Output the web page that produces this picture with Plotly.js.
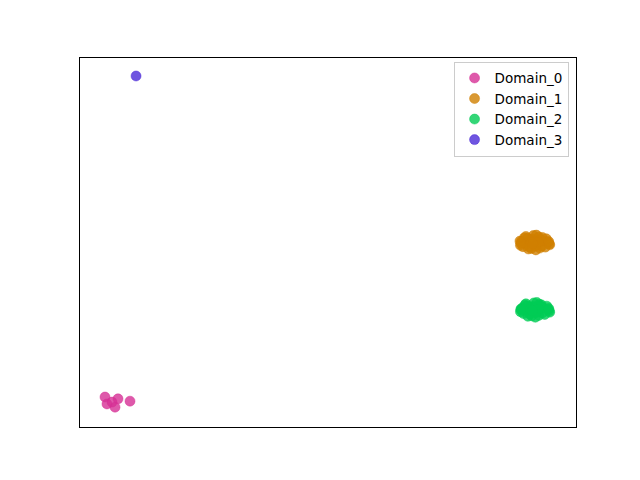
<!DOCTYPE html>
<html>
<head>
<meta charset="utf-8">
<script src="https://cdn.plot.ly/plotly-3.0.1.min.js"></script>
<style>
  html, body { margin: 0; padding: 0; background: #ffffff; }
  #chart { width: 640px; height: 480px; }
</style>
</head>
<body>
<div id="chart"></div>
<script>
// Embedded 2-D coordinates of samples, one group per domain
const domainNames = ["Domain_0", "Domain_1", "Domain_2", "Domain_3"];
const domainColors = ["rgba(214,47,149,0.8)", "rgba(208,127,0,0.8)", "rgba(0,204,85,0.8)", "rgba(75,43,216,0.8)"];

const d0x = [-44.96, -44.56, -42.34, -42.94, -39.92, -43.55];
const d0y = [-33.5, -35.0, -33.9, -35.7, -34.4, -34.6];

const d1x = [41.7, 40.2, 43.1, 39.0, 44.3, 41.0, 42.5, 38.8, 44.6, 40.5,
             42.9, 39.6, 43.8, 41.4, 40.0, 43.4, 38.7, 44.7, 41.9, 40.8,
             42.2, 39.3, 44.0, 41.2, 42.7, 39.9, 43.2, 41.6, 40.4, 42.0,
             38.9, 44.5, 41.8, 40.9, 42.4, 41.3];
const d1y = [-0.1, 0.9, -0.8, 0.2, 0.1, -1.3, 1.2, -0.6, -0.3, -0.9,
             0.6, 1.0, -1.0, 1.5, -0.2, 0.4, 0.3, -0.5, -1.6, 0.5,
             -0.4, -0.9, 0.8, 0.7, -1.2, 1.3, 1.1, 0.3, -1.4, 1.6,
             -0.2, 0.2, -0.7, 0.0, 0.1, -0.3];

const d2x = [41.7, 40.1, 43.2, 38.9, 44.4, 41.1, 42.6, 38.8, 44.6, 40.6,
             42.8, 39.7, 43.7, 41.5, 40.0, 43.3, 39.2, 44.7, 41.8, 40.7,
             42.3, 39.4, 44.1, 41.3, 42.5, 39.9, 43.0, 41.6, 40.3, 42.1,
             38.9, 44.5, 41.9, 40.8, 42.4, 41.2];
const d2y = [-14.6, -13.7, -15.3, -14.4, -14.5, -15.9, -13.4, -15.0, -14.8, -15.5,
             -13.9, -13.6, -15.6, -13.1, -14.7, -14.1, -14.2, -15.1, -16.2, -14.0,
             -14.9, -15.4, -13.8, -13.9, -15.8, -13.3, -13.5, -14.3, -16.0, -13.0,
             -14.6, -14.3, -15.2, -14.5, -14.4, -14.8];

const d3x = [-38.7];
const d3y = [36.1];

const xs = [d0x, d1x, d2x, d3x];
const ys = [d0y, d1y, d2y, d3y];

const traces = domainNames.map((name, i) => ({
  type: "scatter",
  mode: "markers",
  name: name,
  x: xs[i],
  y: ys[i],
  marker: { color: domainColors[i], size: 10, line: { width: 0.6, color: domainColors[i] } }
}));

const layout = {
  width: 640,
  height: 480,
  paper_bgcolor: "#ffffff",
  plot_bgcolor: "#ffffff",
  margin: { l: 80, r: 64, t: 58, b: 53 },
  font: { family: "DejaVu Sans, sans-serif", size: 13.5, color: "#000000" },
  showlegend: true,
  legend: {
    x: 0.985, y: 0.99, xanchor: "right", yanchor: "top",
    bgcolor: "rgba(255,255,255,0.8)", bordercolor: "#cccccc", borderwidth: 1,
    font: { size: 13.5 }, tracegroupgap: 0
  },
  xaxis: {
    range: [-50, 50], showgrid: false, zeroline: false, showticklabels: false,
    ticks: "", showline: true, mirror: true, linecolor: "#000000", linewidth: 1
  },
  yaxis: {
    range: [-40, 40], showgrid: false, zeroline: false, showticklabels: false,
    ticks: "", showline: true, mirror: true, linecolor: "#000000", linewidth: 1
  }
};

Plotly.newPlot("chart", traces, layout, { displayModeBar: false, staticPlot: true });
</script>
</body>
</html>
